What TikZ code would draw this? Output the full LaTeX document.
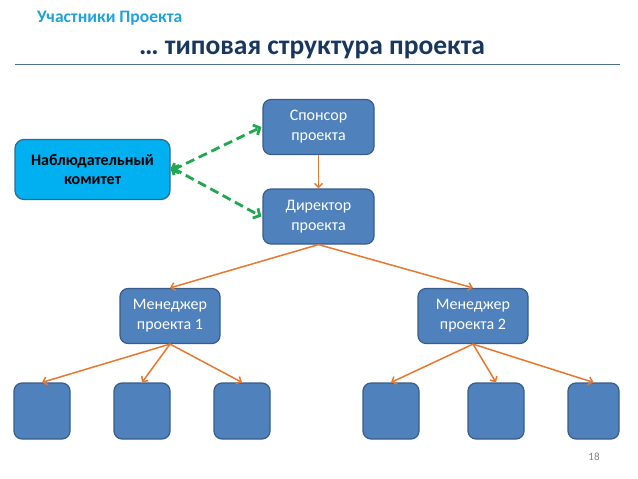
\documentclass[tikz,border=0pt]{standalone}
\usepackage{fontspec}
\setmainfont{Carlito}
\usetikzlibrary{arrows.meta}
\definecolor{boxfill}{HTML}{4F81BD}
\definecolor{boxline}{HTML}{385D8A}
\definecolor{cyanfill}{HTML}{00B0F0}
\definecolor{cyanline}{HTML}{2E6A94}
\definecolor{greenarrow}{HTML}{1FA84F}
\definecolor{orangearrow}{HTML}{E8782F}
\definecolor{titleblue}{HTML}{1FA3DC}
\definecolor{darkblue}{HTML}{17375E}
\definecolor{rulecol}{HTML}{4F6F8F}
\begin{document}
\begin{tikzpicture}[x=1pt,y=-1pt,
  blockbox/.style={draw=boxline, fill=boxfill, line width=1.2pt, rounded corners=8pt,
    text=white, align=center, font=\fontsize{16}{20}\selectfont, inner sep=0pt},
  leafbox/.style={blockbox, minimum width=56pt, minimum height=56pt},
  committeebox/.style={draw=cyanline, fill=cyanfill, line width=1.2pt, rounded corners=9pt,
    text=black, align=center, font=\bfseries\fontsize{16}{18.5}\selectfont, inner sep=0pt,
    minimum width=155pt, minimum height=60pt},
  orangearr/.style={draw=orangearrow, line width=1.5pt,
    -{Straight Barb[length=4pt,width=8pt]}},
  greenarr/.style={draw=greenarrow, line width=2.8pt, dash pattern=on 9pt off 5pt,
    {Straight Barb[length=5pt,width=11pt]}-{Straight Barb[length=5pt,width=11pt]}}
]
\useasboundingbox (0,0) rectangle (638,479);
\fill[white] (0,0) rectangle (638,479);

\node[anchor=base west, text=titleblue, font=\bfseries\fontsize{17.5}{20}\selectfont, inner sep=0pt] (title) at (37,23) {Участники Проекта};
\node[anchor=base, text=darkblue, font=\bfseries\fontsize{27.5}{32}\selectfont, inner sep=0pt] (heading) at (312,54) {… типовая структура проекта};
\draw[rulecol, line width=0.8pt] (15,64) -- (620,64);

\node[blockbox, minimum width=111pt, minimum height=55pt] (sponsor) at (318.5,127) {Спонсор\\проекта};
\node[blockbox, minimum width=111pt, minimum height=55pt] (director) at (318.5,216.5) {Директор\\проекта};
\node[committeebox] (committee) at (92.5,169.5) {Наблюдательный\\комитет};
\node[blockbox, minimum width=100pt, minimum height=55pt] (man1) at (170,316) {Менеджер\\проекта 1};
\node[blockbox, minimum width=110pt, minimum height=55pt] (man2) at (473,316) {Менеджер\\проекта 2};

\node[leafbox] (l1) at (42,411) {};
\node[leafbox] (l2) at (142,411) {};
\node[leafbox] (l3) at (242,411) {};
\node[leafbox] (r1) at (391,411) {};
\node[leafbox] (r2) at (496,411) {};
\node[leafbox, minimum width=51pt] (r3) at (593.5,411) {};

\node[text=gray, font=\fontsize{11}{13}\selectfont, inner sep=0pt] (pagenum) at (594,456.5) {18};

\draw[orangearr] (sponsor.south) -- (director.north);
\draw[orangearr] (director.south) -- (man1.north);
\draw[orangearr] (director.south) -- (man2.north);
\draw[orangearr] (man1.south) -- (l1.north);
\draw[orangearr] (man1.south) -- (l2.north);
\draw[orangearr] (man1.south) -- (l3.north);
\draw[orangearr] (man2.south) -- (r1.north);
\draw[orangearr] (man2.south) -- (r2.north);
\draw[orangearr] (man2.south) -- (r3.north);

\draw[greenarr] ([yshift=-1.5pt]committee.east) -- ([xshift=-1pt]sponsor.west);
\draw[greenarr] ([yshift=2.5pt]committee.east) -- ([xshift=-1pt]director.west);
\end{tikzpicture}
\end{document}
